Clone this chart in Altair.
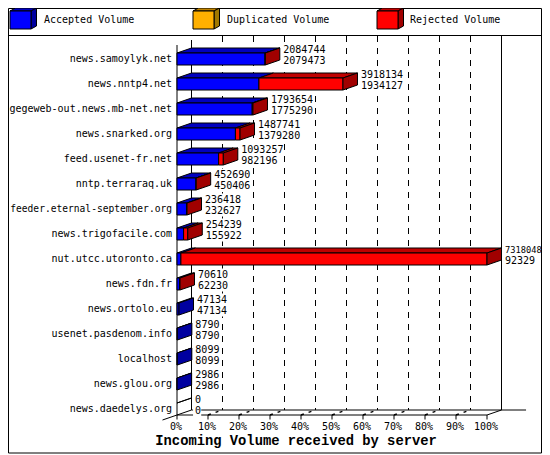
import altair as alt
import pandas as pd

servers = ["news.samoylyk.net", "news.nntp4.net", "gegeweb-out.news.mb-net.net",
           "news.snarked.org", "feed.usenet-fr.net", "nntp.terraraq.uk",
           "feeder.eternal-september.org", "news.trigofacile.com", "nut.utcc.utoronto.ca",
           "news.fdn.fr", "news.ortolo.eu", "usenet.pasdenom.info", "localhost",
           "news.glou.org", "news.daedelys.org"]
totals = [2084744, 3918134, 1793654, 1487741, 1093257, 452690, 236418, 254239,
          7318048, 70610, 47134, 8790, 8099, 2986, 0]
accepted = [2079473, 1934127, 1775290, 1379280, 982196, 450406, 232627, 155922,
            92329, 62230, 47134, 8790, 8099, 2986, 0]
ticks = [0, 10, 20, 30, 40, 50, 60, 70, 80, 90, 100]
legend_names = ["Accepted Volume", "Duplicated Volume", "Rejected Volume"]
title = "Incoming Volume received by server"

BLUE, BLUE_TOP, BLUE_SIDE = "#0000ff", "#0000c0", "#0000a0"
RED, RED_TOP, RED_SIDE = "#ff0000", "#c00000", "#a00000"
YEL, YEL_TOP, YEL_SIDE = "#ffb000", "#c08400", "#a07800"

DX, DY, H = 14.5 / 3.1, 0.2, 0.24   # depth in % and rows, half bar height in rows
MONO = "DejaVu Sans Mono"
W, HT = 534, 446

xs = alt.Scale(domain=[0, 100], range=[169, 479])
ys = alt.Scale(domain=[0, 14], range=[51, 401])
X = alt.X("x:Q", scale=xs, axis=None)
Y = alt.Y("y:Q", scale=ys, axis=None)

polys, pid = [], 0


def poly(points, fill, store=polys):
    global pid
    pid += 1
    pts = list(points) + [points[0]]
    for i, (x, y) in enumerate(pts):
        store.append({"x": x, "y": y, "pid": f"{pid:04d}", "i": i, "fill": fill})


def front(a, b, r, fill):
    poly([(a, r - H), (b, r - H), (b, r + H), (a, r + H)], fill)


def top(a, b, r, fill):
    poly([(a, r - H), (b, r - H), (b + DX, r - H - DY), (a + DX, r - H - DY)], fill)


def side(b, r, fill):
    poly([(b, r - H), (b + DX, r - H - DY), (b + DX, r + H - DY), (b, r + H)], fill)


full = max(totals)
for r, (t, a) in enumerate(zip(totals, accepted)):
    pa, pt = a / full * 100, t / full * 100
    if t == 0:
        top(0, 0, r, BLUE_TOP)
        continue
    top(0, pa, r, BLUE_TOP)
    front(0, pa, r, BLUE)
    if t > a:
        top(pa, pt, r, RED_TOP)
        front(pa, pt, r, RED)
        side(pt, r, RED_SIDE)
    else:
        side(pt, r, BLUE_SIDE)

polys_df = pd.DataFrame(polys)


def poly_layer(df, x, y):
    return alt.Chart(df).mark_line(filled=True, stroke="black", strokeWidth=1, clip=False,
                                   interpolate="linear").encode(
        x=x, y=y, detail="pid:N", order="i:Q", fill=alt.Fill("fill:N", scale=None))


bars = poly_layer(polys_df, X, Y)

# frame of the 3-D plot
segs = [
    (0, 0, -0.56, 14.24),
    (DX, DX, -0.76, 14.04),
    (100 + DX, 100 + DX, -0.92, 14.04),
    (0, 100, 14.24, 14.24),
    (DX, 112.6, 14.04, 14.04),
    (-DX, DX, 14.44, 14.04),
    (100, 100 + DX, 14.24, 14.04),
]
segs += [(t, t, 14.24, 14.42) for t in ticks]
seg_df = pd.DataFrame(segs, columns=["x", "x2", "y", "y2"])
walls = alt.Chart(seg_df).mark_rule(color="black", strokeWidth=1).encode(
    x=X, x2="x2:Q", y=Y, y2="y2:Q")

grid_df = pd.DataFrame({"x": [t + DX for t in ticks[1:-1]], "y": -0.92, "y2": 14.04})
grid = alt.Chart(grid_df).mark_rule(color="black", strokeWidth=1, strokeDash=[6, 6]).encode(
    x=X, y=Y, y2="y2:Q")

floor_df = pd.DataFrame({"x": ticks[1:-1], "x2": [t + DX for t in ticks[1:-1]],
                         "y": 14.24, "y2": 14.04})
floor = alt.Chart(floor_df).mark_rule(color="black", strokeWidth=1.5, strokeDash=[3, 5]).encode(
    x=X, x2="x2:Q", y=Y, y2="y2:Q")

names_df = pd.DataFrame({"x": 0, "y": range(len(servers)), "t": servers,
                         "fs": [9.6 if len(s) > 27 else 10 for s in servers]})
names = alt.Chart(names_df).mark_text(align="right", baseline="middle", dx=-5, font=MONO,
                                      color="black").encode(
    x=X, y=Y, text="t:N", size=alt.Size("fs:Q", scale=None))

val_rows, val_boxes = [], []
for r, (t, a) in enumerate(zip(totals, accepted)):
    p = t / full * 100 + DX
    val_rows.append({"x": p, "y": r - 0.38, "t": str(t), "fs": 8.7 if t == full else 10})
    val_rows.append({"x": p, "y": r + 0.06, "t": str(a), "fs": 10})
    val_boxes.append({"x": p + 0.5, "x2": p + 1.2 + max(len(str(t)), len(str(a))) * 6 / 3.1,
                      "y": r - 0.62, "y2": r + 0.3})
vals = alt.Chart(pd.DataFrame(val_rows)).mark_text(
    align="left", baseline="middle", dx=3.5, font=MONO, color="black"
).encode(x=X, y=Y, text="t:N", size=alt.Size("fs:Q", scale=None))
boxes = alt.Chart(pd.DataFrame(val_boxes)).mark_rect(color="white").encode(
    x=X, x2="x2:Q", y=Y, y2="y2:Q")

tick_df = pd.DataFrame({"x": ticks, "y": 14.72, "t": [f"{t}%" for t in ticks]})
tick_text = alt.Chart(tick_df).mark_text(align="center", baseline="middle", dx=-1, font=MONO,
                                         fontSize=10, color="black").encode(x=X, y=Y, text="t:N")

title_df = pd.DataFrame({"x": [38.4], "y": [15.28], "t": [title]})
title_text = alt.Chart(title_df).mark_text(
    align="center", baseline="middle", font="Liberation Mono", fontSize=13.8, fontWeight="bold",
    color="black").encode(x=X, y=Y, text="t:N")

# legend and page frame, in pixels
PX = alt.X("x:Q", scale=None, axis=None)
PY = alt.Y("y:Q", scale=None, axis=None)
leg_polys = []
pid = 5000
for x0, (f, t_, s) in zip([2, 185, 369], [(BLUE, BLUE_TOP, BLUE_SIDE), (YEL, YEL_TOP, YEL_SIDE),
                                         (RED, RED_TOP, RED_SIDE)]):
    y0, w, h, dx, dy = 3, 21, 18, 5.5, 3
    poly([(x0, y0), (x0 + w, y0), (x0 + w + dx, y0 - dy), (x0 + dx, y0 - dy)], t_, leg_polys)
    poly([(x0 + w, y0), (x0 + w + dx, y0 - dy), (x0 + w + dx, y0 + h - dy), (x0 + w, y0 + h)], s, leg_polys)
    poly([(x0, y0), (x0 + w, y0), (x0 + w, y0 + h), (x0, y0 + h)], f, leg_polys)
leg_cubes = poly_layer(pd.DataFrame(leg_polys), PX, PY)
leg_df = pd.DataFrame({"x": [36, 219, 402], "y": [12, 12, 12], "t": legend_names})
leg_text = alt.Chart(leg_df).mark_text(align="left", baseline="middle", font=MONO, fontSize=10,
                                       color="black").encode(x=PX, y=PY, text="t:N")
frame_df = pd.DataFrame([(0.5, W - 0.5, 0.5, 0.5), (0.5, W - 0.5, 27.5, 27.5),
                         (0.5, W - 0.5, HT - 1, HT - 1), (0.5, 0.5, 0.5, HT - 1),
                         (W - 0.5, W - 0.5, 0.5, HT - 1)], columns=["x", "x2", "y", "y2"])
frame = alt.Chart(frame_df).mark_rule(color="black", strokeWidth=1).encode(
    x=PX, x2="x2:Q", y=PY, y2="y2:Q")

chart = alt.layer(grid, floor, walls, boxes, bars, names, vals, tick_text, title_text,
                  ).resolve_scale(x="shared", y="shared")
page = alt.layer(frame, leg_cubes, leg_text)
chart = alt.layer(chart, page).resolve_scale(x="independent", y="independent").properties(
    width=W, height=HT, padding=0, autosize=alt.AutoSizeParams(type="none"),
    background="white").configure_view(stroke=None)

chart.save("out.html", embed_options={"renderer": "svg", "actions": False})
